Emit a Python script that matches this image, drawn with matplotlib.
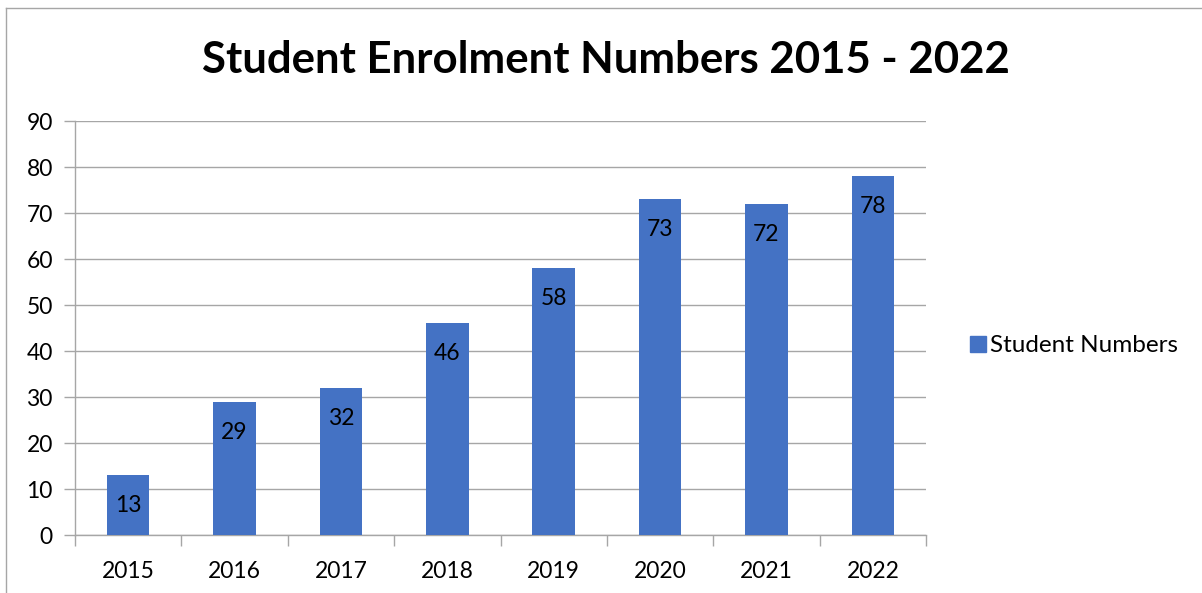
import matplotlib
matplotlib.use("Agg")
import matplotlib.pyplot as plt
from matplotlib.lines import Line2D
from matplotlib.patches import Patch
import numpy as np

years = ["2015", "2016", "2017", "2018", "2019", "2020", "2021", "2022"]
student_numbers = [13, 29, 32, 46, 58, 73, 72, 78]
series_name = "Student Numbers"
title = "Student Enrolment Numbers 2015 - 2022"

plt.rcParams['font.family'] = ['Lato', 'DejaVu Sans']

W, H = 1202, 593
fig = plt.figure(figsize=(W/100, H/100), dpi=100)
ax = fig.add_axes([75/W, 1-535/H, (926-75)/W, (535-121)/H])

color = "#4472C4"
grid_c = "#A6A6A6"
x = np.arange(len(years))
bars = ax.bar(x, student_numbers, width=0.40, color=color, zorder=3)
ax.set_xlim(-0.5, len(years)-0.5)
ax.set_ylim(0, 90)
ax.set_yticks(range(0, 91, 10))
ax.yaxis.grid(True, color=grid_c, linewidth=1, zorder=0)
ax.set_xticks(x)
ax.set_xticklabels(years, fontsize=16.5)
ax.tick_params(axis='x', length=0, pad=19)
ax.tick_params(axis='y', labelsize=16.5, length=8, color=grid_c, width=1, pad=8)
# category boundary ticks
ax.set_xticks(np.arange(-0.5, len(years), 1), minor=True)
ax.tick_params(axis='x', which='minor', length=8, color=grid_c, width=1)
for s in ['top', 'right']:
    ax.spines[s].set_visible(False)
for s in ['left', 'bottom']:
    ax.spines[s].set_color(grid_c)
    ax.spines[s].set_linewidth(1)

for xi, v in zip(x, student_numbers):
    ax.annotate(str(v), (xi, v), xytext=(0, -22), textcoords='offset points',
                ha='center', va='center', fontsize=16.5, color='black', zorder=4)

fig.text(606/W, 1-60/H, title, ha='center', va='center', fontsize=31.5, fontweight='bold')

ax.legend(handles=[Patch(color=color, label=series_name)], loc='center left',
          bbox_to_anchor=(960/W, 1-346/H), bbox_transform=fig.transFigure,
          frameon=False, fontsize=17.5, handlelength=0.65, handleheight=0.65,
          handletextpad=0.2, borderaxespad=0)

# outer frame
fc = "#A6A6A6"
fig.add_artist(Line2D([6/W, 1], [1-8/H, 1-8/H], transform=fig.transFigure, color=fc, lw=1))
fig.add_artist(Line2D([6/W, 6/W], [0, 1-8/H], transform=fig.transFigure, color=fc, lw=1))

fig.savefig("out.png", dpi=100)
